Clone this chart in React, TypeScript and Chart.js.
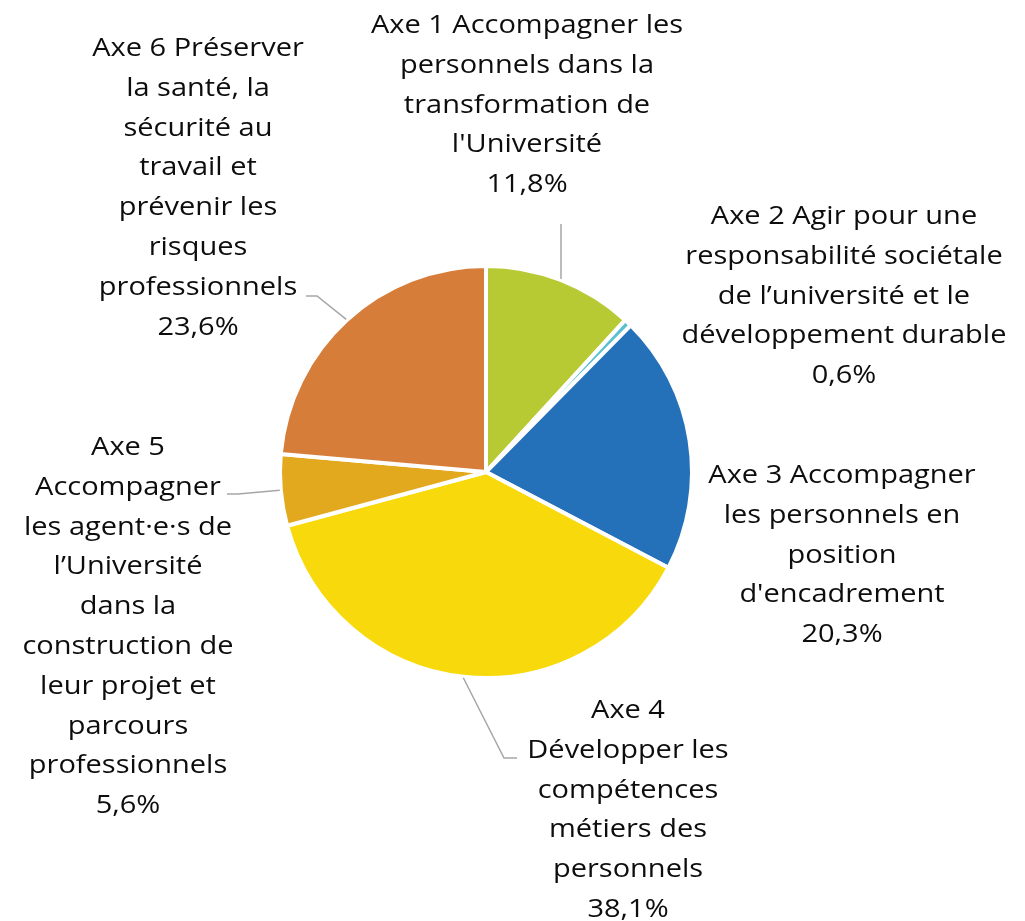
import React, { useEffect, useRef } from "react";
import { Chart, registerables } from "chart.js";

Chart.register(...registerables);

const categories: string[] = [
  "Axe 1 Accompagner les personnels dans la transformation de l'Université",
  "Axe 2 Agir pour une responsabilité sociétale de l’université et le développement durable",
  "Axe 3 Accompagner les personnels en position d'encadrement",
  "Axe 4 Développer les compétences métiers des personnels",
  "Axe 5 Accompagner les agent·e·s de l’Université dans la construction de leur projet et parcours professionnels",
  "Axe 6 Préserver la santé, la sécurité au travail et prévenir les risques professionnels",
];

const values: number[] = [11.8, 0.6, 20.3, 38.1, 5.6, 23.6];

const labelLines: string[][] = [
  ["Axe 1 Accompagner les", "personnels dans la", "transformation de", "l'Université", "11,8%"],
  ["Axe 2 Agir pour une", "responsabilité sociétale", "de l’université et le", "développement durable", "0,6%"],
  ["Axe 3 Accompagner", "les personnels en", "position", "d'encadrement", "20,3%"],
  ["Axe 4", "Développer les", "compétences", "métiers des", "personnels", "38,1%"],
  ["Axe 5", "Accompagner", "les agent·e·s de", "l’Université", "dans la", "construction de", "leur projet et", "parcours", "professionnels", "5,6%"],
  ["Axe 6 Préserver", "la santé, la", "sécurité au", "travail et", "prévenir les", "risques", "professionnels", "23,6%"],
];

const colors: string[] = ["#B8CA33", "#5BC0D0", "#2471BA", "#F8DA0C", "#E3A91E", "#D67D3A"];

// label placement relative to pie centre: [centre x offset, first baseline offset]
const labelOffsets: number[][] = [
  [41, -439],
  [358, -248],
  [356, 11],
  [142, 246],
  [-358, -17],
  [-288, -416],
];

// leader line points (relative to pie centre), drawn from the slice edge
const leaderPoints: number[][][] = [
  [[75, -248]],
  [],
  [],
  [[18, 286], [31, 286]],
  [[-248, 22], [-259, 22]],
  [[-169, -176], [-180, -176]],
];

const LINE_HEIGHT = 39.8;
const FONT = '26px "Open Sans"';
const TEXT_STRETCH = 1.115;

const labelPlugin = {
  id: "outsideLabels",
  afterDatasetsDraw(chart: any) {
    const ctx = chart.ctx;
    const meta = chart.getDatasetMeta(0);
    ctx.save();
    meta.data.forEach((arc: any, i: number) => {
      const { x, y, startAngle, endAngle, outerRadius } = arc.getProps(
        ["x", "y", "startAngle", "endAngle", "outerRadius"],
        true
      );
      const mid = (startAngle + endAngle) / 2;
      const pts = leaderPoints[i];
      if (pts.length) {
        ctx.beginPath();
        ctx.strokeStyle = "#A6A6A6";
        ctx.lineWidth = 1.5;
        ctx.moveTo(x + Math.cos(mid) * (outerRadius + 1), y + Math.sin(mid) * (outerRadius + 1));
        pts.forEach((p) => ctx.lineTo(x + p[0], y + p[1]));
        ctx.stroke();
      }
      ctx.fillStyle = "#0d0d0d";
      ctx.font = FONT;
      ctx.textAlign = "center";
      ctx.textBaseline = "alphabetic";
      const [dx, dy] = labelOffsets[i];
      labelLines[i].forEach((line, k) => {
        ctx.save();
        ctx.translate(x + dx, y + dy + k * LINE_HEIGHT);
        ctx.scale(TEXT_STRETCH, 1);
        ctx.fillText(line, 0, 0);
        ctx.restore();
      });
    });
    ctx.restore();
  },
};

export default function App() {
  const canvasRef = useRef<HTMLCanvasElement | null>(null);

  useEffect(() => {
    document.body.style.margin = "0";
    let chart: Chart | null = null;
    let cancelled = false;
    const build = () => {
      if (cancelled || !canvasRef.current) return;
      chart = new Chart(canvasRef.current, {
        type: "pie",
        data: {
          labels: categories,
          datasets: [
            {
              data: values,
              backgroundColor: colors,
              borderColor: "#FFFFFF",
              borderWidth: 4,
            },
          ],
        },
        options: {
          animation: false,
          responsive: false,
          layout: { padding: { top: 264, bottom: 241, left: 278, right: 331 } },
          plugins: {
            legend: { display: false },
            tooltip: { enabled: false },
          },
        },
        plugins: [labelPlugin],
      });
    };
    const fonts: any = (document as any).fonts;
    if (fonts && fonts.load) {
      fonts.load(FONT).then(build, build);
    } else {
      build();
    }
    return () => {
      cancelled = true;
      if (chart) chart.destroy();
    };
  }, []);

  return (
    <div style={{ width: 1025, height: 921, background: "#fff" }}>
      <canvas ref={canvasRef} width={1025} height={921} style={{ width: 1025, height: 921, display: "block" }} />
    </div>
  );
}
